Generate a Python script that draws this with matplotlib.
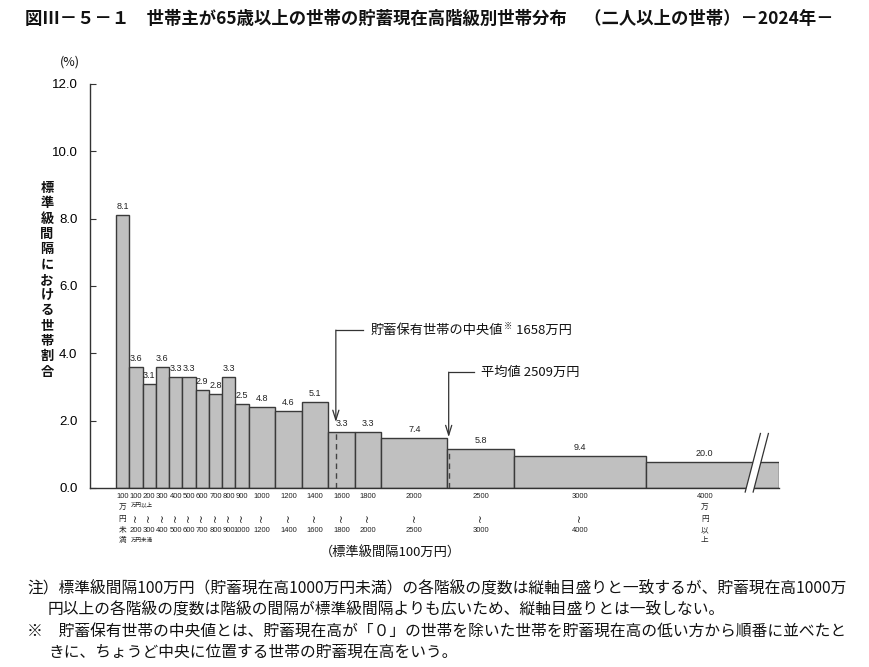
import matplotlib
matplotlib.use("Agg")
import matplotlib.pyplot as plt
from matplotlib.transforms import blended_transform_factory
import numpy as np

plt.rcParams['font.family'] = ['Noto Sans CJK JP', 'DejaVu Sans']

# ---- data ----
lower = [0, 100, 200, 300, 400, 500, 600, 700, 800, 900, 1000, 1200, 1400, 1600, 1800, 2000, 2500, 3000, 4000]
upper = [100, 200, 300, 400, 500, 600, 700, 800, 900, 1000, 1200, 1400, 1600, 1800, 2000, 2500, 3000, 4000, 5000]
values = [8.1, 3.6, 3.1, 3.6, 3.3, 3.3, 2.9, 2.8, 3.3, 2.5, 4.8, 4.6, 5.1, 3.3, 3.3, 7.4, 5.8, 9.4, 20.0]
last_nominal_width = 2600  # open-ended class drawn with break
top_labels = ['100', '100', '200', '300', '400', '500', '600', '700', '800', '900', '1000', '1200', '1400',
              '1600', '1800', '2000', '2500', '3000', '4000']
bottom_labels = ['', '200', '300', '400', '500', '600', '700', '800', '900', '1000', '1200', '1400', '1600',
                 '1800', '2000', '2500', '3000', '4000', '']
median_value = 1658
mean_value = 2509
yticks = [0, 2, 4, 6, 8, 10, 12]

widths = [u - l for l, u in zip(lower, upper)]
heights = []
for i, (v, w) in enumerate(zip(values, widths)):
    if i == len(values) - 1:
        heights.append(v / (last_nominal_width / 100))
    else:
        heights.append(v / (w / 100))

W, H = 870, 667
fig = plt.figure(figsize=(W / 100, H / 100), dpi=100)
def fy(p):
    return 1 - p / H
def fx(p):
    return p / W

ax = fig.add_axes([fx(90), fy(488), fx(779) - fx(90), fy(84) - fy(488)])
ax.set_xlim(-196, 5000)
ax.set_ylim(0, 12)

ax.bar(lower, heights, width=widths, align='edge', color='#c0c0c0', edgecolor='#3a3a3a', linewidth=1.0, zorder=2)

for side in ['top', 'right']:
    ax.spines[side].set_visible(False)
ax.spines['left'].set_linewidth(1.0)
ax.spines['bottom'].set_linewidth(1.0)
ax.spines['left'].set_color('#333333')
ax.spines['bottom'].set_color('#333333')
ax.set_yticks(yticks)
ax.set_yticklabels([f'{t:.1f}' for t in yticks], fontsize=9.5, family=['Liberation Sans'])
ax.tick_params(axis='y', direction='in', length=4, pad=9, color='#333333')
ax.set_xticks([])

# value labels
label_x = []
for i, (l, u) in enumerate(zip(lower, upper)):
    if i == len(lower) - 1:
        label_x.append(l + 0.44 * (u - l))
    else:
        label_x.append((l + u) / 2)
for x, h, v in zip(label_x, heights, values):
    ax.text(x, h + 0.12, f'{v:.1f}', ha='center', va='bottom', fontsize=6.5, family=['Liberation Sans'], color='#222222')

# break marks on last bar
bx = upper[-1] - 250
bh = heights[-1]
poly = plt.Polygon([[bx - 5, -0.12], [bx + 55, -0.12], [bx + 170, bh + 0.85], [bx + 110, bh + 0.85]],
                   closed=True, facecolor='white', edgecolor='none', zorder=3, clip_on=False)
ax.add_patch(poly)
ax.plot([bx - 5, bx + 110], [-0.12, bh + 0.85], color='#333333', lw=0.9, zorder=4, clip_on=False)
ax.plot([bx + 55, bx + 170], [-0.12, bh + 0.85], color='#333333', lw=0.9, zorder=4, clip_on=False)

# median / mean annotations
def bar_height_at(x):
    for l, u, h in zip(lower, upper, heights):
        if l <= x < u:
            return h
    return 0

ann = [
    (median_value, 4.69, 1.96, 205, '貯蓄保有世帯の中央値', '※', ' 1658万円'),
    (mean_value, 3.44, 1.51, 192, '平均値 2509万円', '', ''),
]
for val, ytext, ytip, hlen, t1, sup, t2 in ann:
    ax.annotate('', xy=(val, ytip), xytext=(val, ytext),
                arrowprops=dict(arrowstyle='->,head_length=0.7,head_width=0.22', lw=0.9, color='#333333',
                                shrinkA=0, shrinkB=0), zorder=5)
    ax.plot([val, val + hlen], [ytext, ytext], color='#333333', lw=0.9, zorder=5)
    ax.plot([val, val], [0, bar_height_at(val)], color='#444444', lw=1.0, ls=(0, (4, 3)), zorder=5)
    t = ax.text(val + hlen + 55, ytext, t1, ha='left', va='center', fontsize=9.5, color='#111111')
    if sup:
        fig.canvas.draw()
        bb = t.get_window_extent()
        ax.annotate(sup, xy=(bb.x1, bb.y1), xycoords='figure pixels', xytext=(0.5, 1.5),
                    textcoords='offset points', ha='left', va='top', fontsize=6, color='#111111')
        ax.annotate(t2, xy=(bb.x1, (bb.y0 + bb.y1) / 2), xycoords='figure pixels', xytext=(7, 0),
                    textcoords='offset points', ha='left', va='center', fontsize=9.5, color='#111111')

# x category labels
tr = blended_transform_factory(ax.transData, fig.transFigure)
for i, x in enumerate(label_x):
    ax.text(x, fy(496), top_labels[i], transform=tr, ha='center', va='center', fontsize=5.5,
            family=['Liberation Sans'], color='#222222')
    if i == 0:
        for ch, p in zip('万円未満', [508, 519, 530, 540]):
            ax.text(x, fy(p), ch, transform=tr, ha='center', va='center', fontsize=5.5, color='#222222')
    elif i == len(label_x) - 1:
        for ch, p in zip('万円以上', [508, 519, 530, 540]):
            ax.text(x, fy(p), ch, transform=tr, ha='center', va='center', fontsize=5.5, color='#222222')
    else:
        ax.text(x, fy(518), '~', transform=tr, ha='center', va='center', fontsize=7.5, color='#222222',
                family=['DejaVu Sans'], rotation=90)
        ax.text(x, fy(531), bottom_labels[i], transform=tr, ha='center', va='center', fontsize=5.5,
                family=['Liberation Sans'], color='#222222')
    if i == 1:
        ax.text(lower[1] + 10, fy(504), '万円以上', transform=tr, ha='left', va='center', fontsize=4, color='#222222')
        ax.text(lower[1] + 10, fy(540), '万円未満', transform=tr, ha='left', va='center', fontsize=4, color='#222222')

# title
fig.text(fx(25), fy(19), '図Ⅲ－５－１　世帯主が65歳以上の世帯の貯蓄現在高階級別世帯分布　（二人以上の世帯）－2024年－',
         ha='left', va='center', fontsize=12.5, fontweight='bold', color='#111111')

# axis unit and y label
fig.text(fx(70), fy(62), '(%)', ha='center', va='center', fontsize=9, color='#111111')
ylabel = '標準級間隔における世帯割合'
for k, ch in enumerate(ylabel):
    fig.text(fx(47), fy(188 + k * 15.3), ch, ha='center', va='center', fontsize=9.5, fontweight='bold', color='#111111')

fig.text(fx(390), fy(553), '（標準級間隔100万円）', ha='center', va='center', fontsize=9.5, color='#111111')

# notes
notes = [
    (27, 588, '注）標準級間隔100万円（貯蓄現在高1000万円未満）の各階級の度数は縦軸目盛りと一致するが、貯蓄現在高1000万'),
    (48, 609, '円以上の各階級の度数は階級の間隔が標準級間隔よりも広いため、縦軸目盛りとは一致しない。'),
    (27, 631, '※　貯蓄保有世帯の中央値とは、貯蓄現在高が「０」の世帯を除いた世帯を貯蓄現在高の低い方から順番に並べたと'),
    (48, 652, 'きに、ちょうど中央に位置する世帯の貯蓄現在高をいう。'),
]
for x, y, t in notes:
    fig.text(fx(x), fy(y), t, ha='left', va='center', fontsize=11.3, color='#111111')

fig.savefig('out.png', dpi=100, facecolor='white')
